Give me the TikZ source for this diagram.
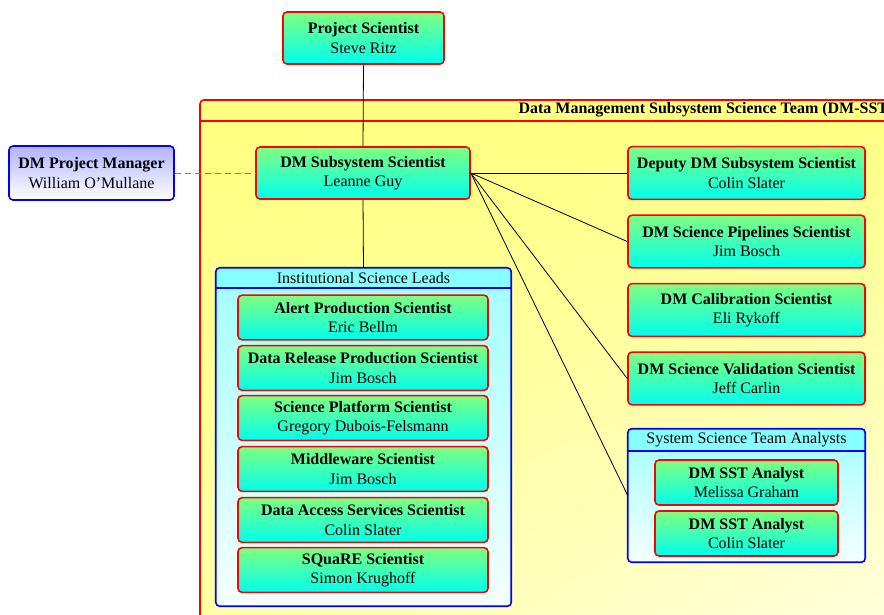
\documentclass[tikz,border=0pt]{standalone}
\usepackage{fontspec}
\setmainfont{Liberation Serif}
\usetikzlibrary{positioning, shadings, calc}

\definecolor{roletop}{RGB}{128,255,128}
\definecolor{rolebottom}{RGB}{0,255,238}
\definecolor{headcyan}{RGB}{135,255,255}
\definecolor{bodycyan}{RGB}{160,255,255}
\definecolor{bodywhite}{RGB}{245,255,255}
\definecolor{pmdash}{RGB}{150,130,60}

\begin{document}
\begin{tikzpicture}[x=0.75pt, y=-0.75pt,
      font=\fontsize{12}{14.5}\selectfont,
      role/.style={rectangle, draw=red, line width=1.2pt, rounded corners=3pt, top color=roletop, bottom color=rolebottom, align=center, inner sep=2pt, minimum width=177.75pt, minimum height=39.5pt},
      lead/.style={role, minimum width=187.5pt, minimum height=33.5pt},
      analyst/.style={role, minimum width=137.25pt, minimum height=33.75pt},
      manager/.style={rectangle, draw=blue, line width=1.2pt, rounded corners=3pt, top color=blue!30, bottom color=white, align=center, minimum width=123.75pt, minimum height=40.5pt},
      group/.style={rectangle, rounded corners=3pt, top color=bodycyan, bottom color=bodywhite},
      team/.style={rectangle, draw=red, line width=1.2pt, rounded corners=3pt, shade, shading=bilinear interpolation, upper left=yellow!50, upper right=yellow!50, lower left=yellow!35, lower right=white},
      link/.style={semithick, black},
      pmlink/.style={semithick, pmdash, dash pattern=on 4.5pt off 3pt}]

      \path[use as bounding box] (0,0) rectangle (884,614);
      \clip (0,0) rectangle (884,614);

      % DM-SST
      \node[team, minimum width=759pt, minimum height=412.5pt] (team) at (706,375) {};
      \draw[red, line width=1.2pt] ($(team.north west)+(0,22)$) -- ($(team.north east)+(0,22)$);
      \node[font=\fontsize{12}{14.5}\selectfont\bfseries] (teamtitle) at ($(team.north)+(0,11)$) {Data Management Subsystem Science Team (DM-SST)};

      \node[role, minimum width=120.75pt, minimum height=39pt] (ps) at (363.5,38) {\textbf{Project Scientist}\\Steve Ritz};
      \node[manager] (pm) at (91.5,173) {\textbf{DM Project Manager}\\William O'Mullane};
      \node[role, minimum width=160.5pt, minimum height=39pt] (dmss) at (363,173) {\textbf{DM Subsystem Scientist}\\Leanne Guy};

      \node[role] (deputy) at (746.5,173) {\textbf{Deputy DM Subsystem Scientist}\\Colin Slater};
      \node[role] (pipelines) at (746.5,241.5) {\textbf{DM Science Pipelines Scientist}\\Jim Bosch};
      \node[role] (calibration) at (746.5,310) {\textbf{DM Calibration Scientist}\\Eli Rykoff};
      \node[role] (validation) at (746.5,378.5) {\textbf{DM Science Validation Scientist}\\Jeff Carlin};

      % Groups
      \node[group, minimum width=221.25pt, minimum height=253.5pt] (isl) at (363.5,437) {};
      \node[group, minimum width=177.75pt, minimum height=99.75pt] (sst) at (746.5,495.5) {};
      \foreach \g/\h/\t in {isl/20/Institutional Science Leads, sst/22/System Science Team Analysts} {
        \begin{scope}
          \clip[rounded corners=3pt] (\g.north west) rectangle (\g.south east);
          \fill[headcyan] (\g.north west) rectangle ($(\g.north east)+(0,\h)$);
        \end{scope}
        \draw[blue, line width=1.2pt, rounded corners=3pt] (\g.north west) rectangle (\g.south east);
        \draw[blue, line width=1.2pt] ($(\g.north west)+(0,\h)$) -- ($(\g.north east)+(0,\h)$);
        \node (\g title) at ($(\g.north)+(0,\h/2)$) {\t};
      }

      \node[lead] (alert) at (363,317.5) {\textbf{Alert Production Scientist}\\Eric Bellm};
      \node[lead] (drp) at (363,368) {\textbf{Data Release Production Scientist}\\Jim Bosch};
      \node[lead] (platform) at (363,418) {\textbf{Science Platform Scientist}\\Gregory Dubois-Felsmann};
      \node[lead] (middleware) at (363,469) {\textbf{Middleware Scientist}\\Jim Bosch};
      \node[lead] (dax) at (363,520) {\textbf{Data Access Services Scientist}\\Colin Slater};
      \node[lead] (square) at (363,570) {\textbf{SQuaRE Scientist}\\Simon Krughoff};

      \node[analyst] (graham) at (746.5,482.5) {\textbf{DM SST Analyst}\\Melissa Graham};
      \node[analyst] (slater) at (746.5,533.5) {\textbf{DM SST Analyst}\\Colin Slater};

      % Lines
      \draw[link] (ps.south) -- (dmss.north);
      \draw[link] (dmss.south) -- (isl.north);
      \draw[pmlink] (pm.east) -- (dmss.west);
      \foreach \t in {deputy, pipelines, validation, sst} {
        \draw[link] (dmss.east) -- (\t.west);
      }
    \end{tikzpicture}
\end{document}
